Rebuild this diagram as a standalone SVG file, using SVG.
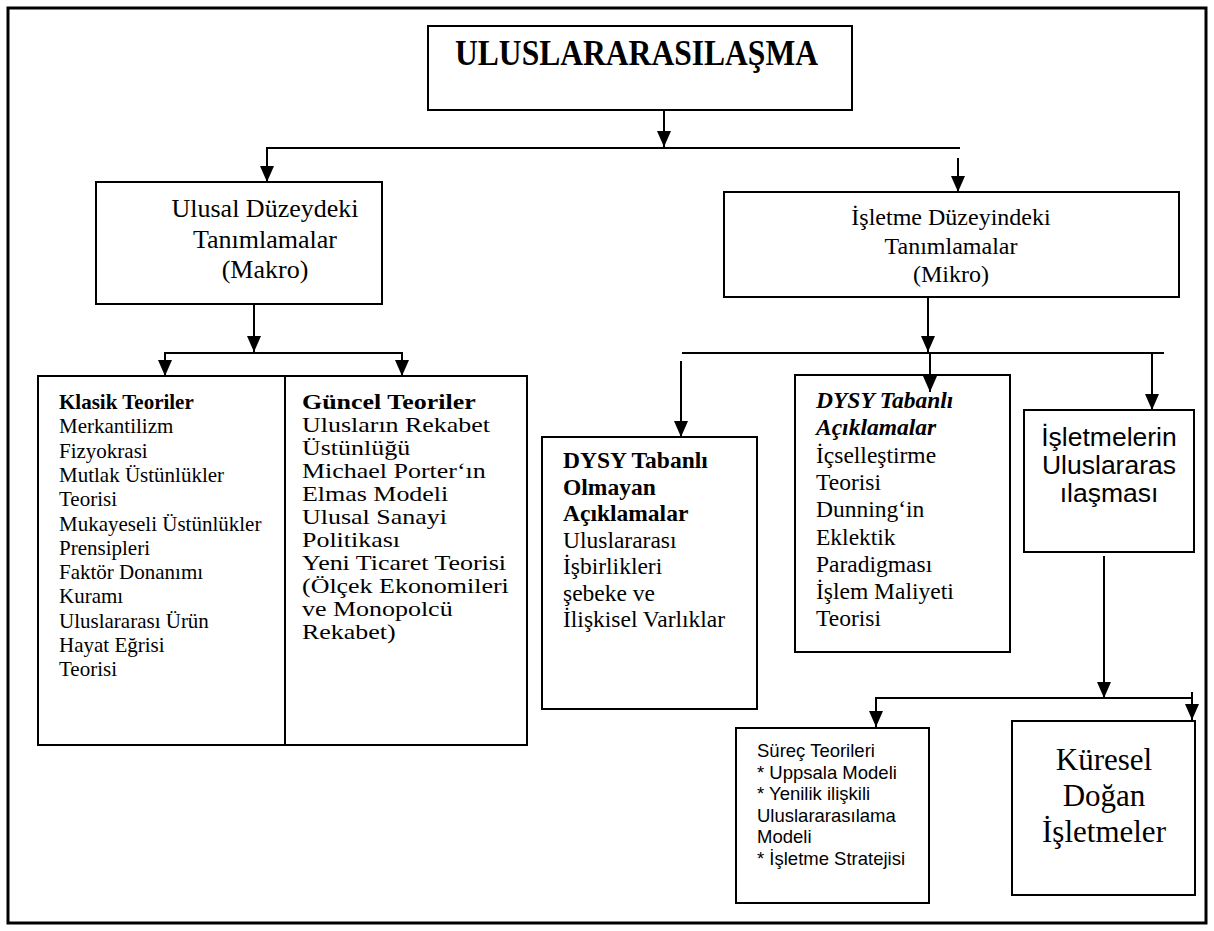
<svg xmlns="http://www.w3.org/2000/svg" width="1214" height="931" viewBox="0 0 1214 931">
<defs>
<marker id="ah" viewBox="0 0 16 14" refX="16" refY="7" markerWidth="16" markerHeight="14" orient="auto" markerUnits="userSpaceOnUse"><path d="M0,0 L16,7 L0,14 z" fill="#000"/></marker>
</defs>
<style>
.box{fill:#fff;stroke:#000;stroke-width:2}
.ln{fill:none;stroke:#000;stroke-width:2}
.ar{fill:none;stroke:#000;stroke-width:2;marker-end:url(#ah)}
.s{font-family:"Liberation Serif","Times New Roman",serif;fill:#000}
.a{font-family:"Liberation Sans",Arial,sans-serif;fill:#000}
.b{font-weight:bold}
.bi{font-weight:bold;font-style:italic}
</style>
<rect x="0" y="0" width="1214" height="931" fill="#fff"/>
<rect x="8" y="8" width="1198" height="915" fill="none" stroke="#000" stroke-width="3"/>

<g id="n-title">
<rect class="box" x="428" y="26" width="424" height="84"/>
<text class="s b" x="455" y="65" font-size="36" textLength="363" lengthAdjust="spacingAndGlyphs">ULUSLARARASILAŞMA</text>
</g>

<g id="n-ulusal">
<rect class="box" x="96" y="182" width="286" height="122"/>
<text class="s" font-size="26" text-anchor="middle"><tspan x="265" y="217">Ulusal Düzeydeki</tspan><tspan x="265" y="248">Tanımlamalar</tspan><tspan x="265" y="278">(Makro)</tspan></text>
</g>

<g id="n-isletme">
<rect class="box" x="724" y="192" width="455" height="105"/>
<text class="s" font-size="24" text-anchor="middle"><tspan x="951" y="225">İşletme Düzeyindeki</tspan><tspan x="951" y="254">Tanımlamalar</tspan><tspan x="951" y="282">(Mikro)</tspan></text>
</g>

<g id="n-klasik">
<rect class="box" x="38" y="376" width="247" height="369"/>
<text class="s" font-size="21"><tspan class="b" x="59" y="409">Klasik Teoriler</tspan><tspan x="59" y="433.3">Merkantilizm</tspan><tspan x="59" y="457.6">Fizyokrasi</tspan><tspan x="59" y="481.9">Mutlak Üstünlükler</tspan><tspan x="59" y="506.2">Teorisi</tspan><tspan x="59" y="530.5">Mukayeseli Üstünlükler</tspan><tspan x="59" y="554.8">Prensipleri</tspan><tspan x="59" y="579.1">Faktör Donanımı</tspan><tspan x="59" y="603.4">Kuramı</tspan><tspan x="59" y="627.7">Uluslararası Ürün</tspan><tspan x="59" y="652">Hayat Eğrisi</tspan><tspan x="59" y="676.3">Teorisi</tspan></text>
</g>

<g id="n-guncel">
<rect class="box" x="285" y="376" width="242" height="369"/>
<g transform="translate(302,0) scale(1.18,1)">
<text class="s" font-size="22"><tspan class="b" x="0" y="409">Güncel Teoriler</tspan><tspan x="0" y="432">Ulusların Rekabet</tspan><tspan x="0" y="455">Üstünlüğü</tspan><tspan x="0" y="478">Michael Porter‘ın</tspan><tspan x="0" y="501">Elmas Modeli</tspan><tspan x="0" y="524">Ulusal Sanayi</tspan><tspan x="0" y="547">Politikası</tspan><tspan x="0" y="570">Yeni Ticaret Teorisi</tspan><tspan x="0" y="593">(Ölçek Ekonomileri</tspan><tspan x="0" y="616">ve Monopolcü</tspan><tspan x="0" y="639">Rekabet)</tspan></text>
</g>
</g>

<g id="n-dysy-olmayan">
<rect class="box" x="542" y="437" width="215" height="272"/>
<text class="s" font-size="23.5"><tspan class="b" x="563" y="468">DYSY Tabanlı</tspan><tspan class="b" x="563" y="494.5">Olmayan</tspan><tspan class="b" x="563" y="521">Açıklamalar</tspan><tspan x="563" y="547.5">Uluslararası</tspan><tspan x="563" y="574">İşbirlikleri</tspan><tspan x="563" y="600.5">şebeke ve</tspan><tspan x="563" y="627">İlişkisel Varlıklar</tspan></text>
</g>

<g id="n-dysy-tabanli">
<rect class="box" x="795" y="375" width="215" height="277"/>
<text class="s" font-size="23.5"><tspan class="bi" x="816" y="408">DYSY Tabanlı</tspan><tspan class="bi" x="816" y="435.3">Açıklamalar</tspan><tspan x="816" y="462.6">İçselleştirme</tspan><tspan x="816" y="489.9">Teorisi</tspan><tspan x="816" y="517.2">Dunning‘in</tspan><tspan x="816" y="544.5">Eklektik</tspan><tspan x="816" y="571.8">Paradigması</tspan><tspan x="816" y="599.1">İşlem Maliyeti</tspan><tspan x="816" y="626.4">Teorisi</tspan></text>
</g>

<g id="n-isletmelerin">
<rect class="box" x="1024" y="410" width="170" height="142"/>
<text class="a" font-size="26.5" text-anchor="middle"><tspan x="1109" y="446">İşletmelerin</tspan><tspan x="1109" y="474">Uluslararas</tspan><tspan x="1109" y="502">ılaşması</tspan></text>
</g>

<g id="n-surec">
<rect class="box" x="736" y="728" width="193" height="175"/>
<text class="a" font-size="18.5"><tspan x="757" y="757">Süreç Teorileri</tspan><tspan x="757" y="778.6">* Uppsala Modeli</tspan><tspan x="757" y="800.2">* Yenilik ilişkili</tspan><tspan x="757" y="821.8">Uluslararasılama</tspan><tspan x="757" y="843.4">Modeli</tspan><tspan x="757" y="865">* İşletme Stratejisi</tspan></text>
</g>

<g id="n-kuresel">
<rect class="box" x="1012" y="721" width="183" height="174"/>
<text class="s" font-size="31" text-anchor="middle"><tspan x="1104" y="770">Küresel</tspan><tspan x="1104" y="806">Doğan</tspan><tspan x="1104" y="842">İşletmeler</tspan></text>
</g>

<g id="connectors">
<line class="ar" x1="664" y1="110" x2="664" y2="147"/>
<line class="ln" x1="266" y1="148" x2="960" y2="148"/>
<line class="ar" x1="267" y1="148" x2="267" y2="182"/>
<line class="ar" x1="958" y1="158" x2="958" y2="192"/>
<line class="ar" x1="254" y1="304" x2="254" y2="352"/>
<line class="ln" x1="164" y1="353" x2="403" y2="353"/>
<line class="ar" x1="165" y1="353" x2="165" y2="376"/>
<line class="ar" x1="402" y1="353" x2="402" y2="376"/>
<line class="ar" x1="928" y1="297" x2="928" y2="352"/>
<line class="ln" x1="682" y1="353" x2="1164" y2="353"/>
<line class="ar" x1="681" y1="361" x2="681" y2="437"/>
<line class="ar" x1="930" y1="353" x2="930" y2="392"/>
<line class="ar" x1="1152" y1="353" x2="1152" y2="410"/>
<line class="ar" x1="1104" y1="556" x2="1104" y2="698"/>
<line class="ln" x1="875" y1="698" x2="1193" y2="698"/>
<line class="ar" x1="876" y1="698" x2="876" y2="727"/>
<line class="ar" x1="1192" y1="692" x2="1192" y2="720"/>
</g>
</svg>
